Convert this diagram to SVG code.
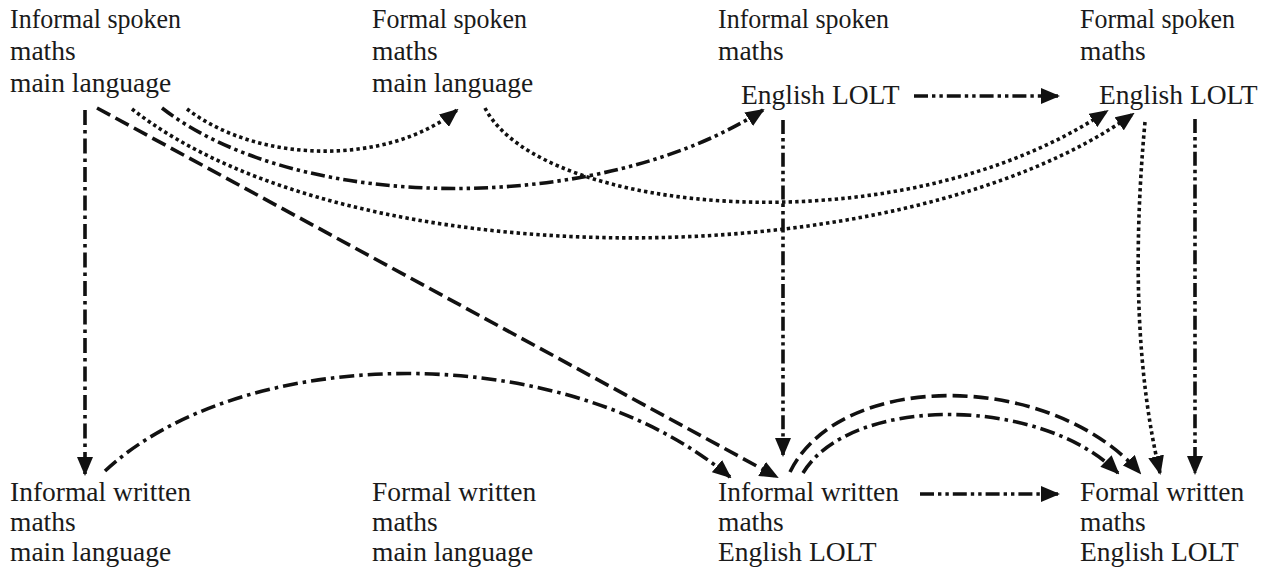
<svg xmlns="http://www.w3.org/2000/svg" width="1269" height="569" viewBox="0 0 1269 569">
<style>
text{font-family:"Liberation Serif","Times New Roman",serif;font-size:27.5px;fill:#1a1a1a}
.c{fill:none;stroke:#111;stroke-width:3.6}
.dash{stroke-dasharray:15 6}
.dot{stroke-dasharray:3.4 3.2}
.dd{stroke-dasharray:15 5 3.5 5}
.ddd{stroke-dasharray:14 4 3.4 4 3.4 4}
</style>
<defs>
<marker id="ah" viewBox="0 0 19 16" refX="17" refY="8" markerWidth="19" markerHeight="16" markerUnits="userSpaceOnUse" orient="auto">
<path d="M0,0 L19,8 L0,16 z" fill="#111"/>
</marker>
</defs>
<rect width="1269" height="569" fill="#fff"/>
<g id="n1"><text x="10" y="28" textLength="171" lengthAdjust="spacingAndGlyphs">Informal spoken</text><text x="10" y="60">maths</text><text x="10" y="92">main language</text></g>
<g id="n2"><text x="372" y="28" textLength="155" lengthAdjust="spacingAndGlyphs">Formal spoken</text><text x="372" y="60">maths</text><text x="372" y="92">main language</text></g>
<g id="n3"><text x="718" y="28" textLength="171" lengthAdjust="spacingAndGlyphs">Informal spoken</text><text x="718" y="60">maths</text><text x="741" y="104">English LOLT</text></g>
<g id="n4"><text x="1080" y="28" textLength="155" lengthAdjust="spacingAndGlyphs">Formal spoken</text><text x="1080" y="60">maths</text><text x="1099" y="104">English LOLT</text></g>
<g id="n5"><text x="10" y="501">Informal written</text><text x="10" y="531">maths</text><text x="10" y="561">main language</text></g>
<g id="n6"><text x="372" y="501">Formal written</text><text x="372" y="531">maths</text><text x="372" y="561">main language</text></g>
<g id="n7"><text x="718" y="501">Informal written</text><text x="718" y="531">maths</text><text x="718" y="561">English LOLT</text></g>
<g id="n8"><text x="1080" y="501">Formal written</text><text x="1080" y="531">maths</text><text x="1080" y="561">English LOLT</text></g>
<g id="connectors" marker-end="url(#ah)">
<path class="c dd" d="M85,110 L85,474"/>
<path class="c dash" d="M97,108 L777,477"/>
<path class="c dot" d="M187,109 C260,165 390,165 457,110"/>
<path class="c ddd" d="M162,108 C300,215 600,215 763,110"/>
<path class="c dot" d="M132,109 C350,280 900,280 1133,114"/>
<path class="c dot" d="M485,108 C540,215 900,250 1107,111"/>
<path class="c ddd" d="M914,96 L1058,96"/>
<path class="c ddd" d="M783,120 L783,455"/>
<path class="c ddd" d="M1195,119 L1195,473"/>
<path class="c dot" d="M1145,122 Q1126,330 1160,473"/>
<path class="c dd" d="M105,471 C240,345 560,335 730,477"/>
<path class="c dash" d="M790,472 C840,370 1050,370 1140,473"/>
<path class="c dd" d="M803,473 C850,395 1040,395 1118,473"/>
<path class="c ddd" d="M920,494 L1058,494"/>
</g>
</svg>
